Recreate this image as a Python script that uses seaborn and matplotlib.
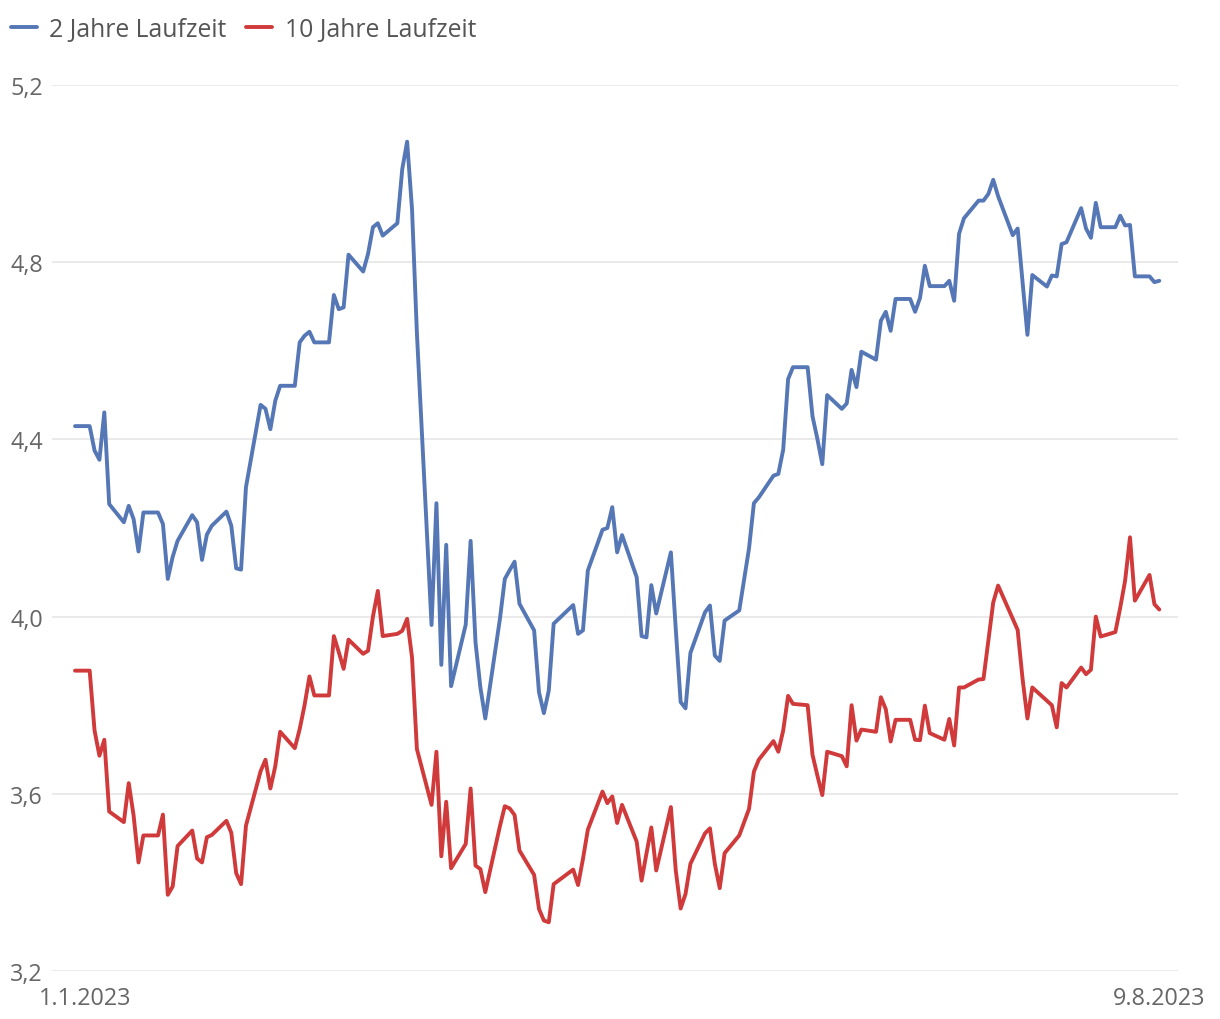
import numpy as np
import pandas as pd
import matplotlib
matplotlib.use("Agg")
import matplotlib.pyplot as plt
import seaborn as sns

# ---------------- data ----------------
series_names = ["2 Jahre Laufzeit", "10 Jahre Laufzeit"]
start_date = "2023-01-01"   # day 0

days_2y = [-2, 1, 2, 3, 4, 5, 8, 9, 10, 11, 12, 15, 16, 17, 18, 19, 22, 23, 24, 25, 26,
           29, 30, 31, 32, 33, 36, 37, 38, 39, 40, 43, 44, 45, 46, 47, 50, 51, 52, 53, 54,
           57, 58, 59, 60, 61, 64, 65, 66, 67, 68, 71, 72, 73, 74, 75, 78, 79, 80, 81, 82,
           85, 86, 87, 88, 89, 92, 93, 94, 95, 96, 100, 101, 102, 103, 106, 107, 108, 109, 110,
           113, 114, 115, 116, 117, 120, 121, 122, 123, 124, 127, 128, 129, 130, 131,
           134, 136, 137, 138, 141, 142, 143, 144, 145, 148, 149, 150, 151, 152,
           155, 156, 157, 158, 159, 162, 163, 164, 165, 166, 169, 170, 171, 172, 173,
           176, 177, 178, 179, 180, 183, 184, 185, 186, 187, 190, 191, 193, 194,
           197, 198, 199, 200, 201, 204, 205, 206, 207, 208, 211, 212, 213, 214, 215,
           218, 219, 220]
yield_2y = [4.43, 4.43, 4.375, 4.354, 4.461, 4.254, 4.213, 4.25, 4.22, 4.147, 4.235,
            4.235, 4.209, 4.085, 4.135, 4.171, 4.229, 4.213, 4.128, 4.185, 4.205,
            4.237, 4.205, 4.109, 4.106, 4.292, 4.478, 4.469, 4.423, 4.487, 4.521,
            4.521, 4.619, 4.634, 4.643, 4.619, 4.619, 4.726, 4.694, 4.698, 4.817,
            4.779, 4.819, 4.879, 4.888, 4.86, 4.888, 5.01, 5.072, 4.92, 4.64,
            3.981, 4.256, 3.891, 4.162, 3.843, 3.982, 4.171, 3.942, 3.84, 3.77,
            3.995, 4.085, 4.105, 4.124, 4.029, 3.969, 3.829, 3.782, 3.833, 3.984,
            4.026, 3.961, 3.969, 4.104, 4.196, 4.2, 4.247, 4.145, 4.184,
            4.089, 3.956, 3.953, 4.071, 4.007, 4.145, 3.972, 3.807, 3.793, 3.918,
            4.01, 4.025, 3.912, 3.9, 3.991, 4.014, 4.154, 4.256, 4.269,
            4.318, 4.322, 4.377, 4.536, 4.563, 4.563, 4.452, 4.401, 4.344, 4.5,
            4.469, 4.481, 4.557, 4.518, 4.598, 4.58, 4.668, 4.688, 4.645, 4.717,
            4.717, 4.688, 4.719, 4.792, 4.746, 4.746, 4.758, 4.713, 4.864, 4.899,
            4.939, 4.939, 4.954, 4.986, 4.949, 4.861, 4.876, 4.636, 4.771,
            4.745, 4.77, 4.768, 4.841, 4.845, 4.922, 4.876, 4.855, 4.934, 4.879,
            4.879, 4.905, 4.883, 4.884, 4.768, 4.768, 4.755, 4.758]

days_10y = [-2, 1, 2, 3, 4, 5, 8, 9, 10, 11, 12, 15, 16, 17, 18, 19, 22, 23, 24, 25, 26,
            29, 30, 31, 32, 33, 36, 37, 38, 39, 40, 43, 44, 45, 46, 47, 50, 51, 52, 53, 54,
            57, 58, 59, 60, 61, 64, 65, 66, 67, 68, 71, 72, 73, 74, 75, 78, 79, 80, 81, 82,
            85, 86, 87, 88, 89, 92, 93, 94, 95, 96, 100, 101, 102, 103, 106, 107, 108, 109, 110,
            113, 114, 115, 116, 117, 120, 121, 122, 123, 124, 127, 128, 129, 130, 131,
            134, 136, 137, 138, 141, 142, 143, 144, 145, 148, 149, 150, 151, 152,
            155, 156, 157, 158, 159, 162, 163, 164, 165, 166, 169, 170, 171, 172, 173,
            176, 177, 178, 179, 180, 183, 184, 185, 186, 187, 190, 191, 192, 193, 194,
            197, 198, 199, 200, 201, 204, 205, 206, 207, 208, 211, 212, 213, 214, 215,
            218, 219, 220]
yield_10y = [3.878, 3.878, 3.743, 3.686, 3.722, 3.56, 3.536, 3.624, 3.551, 3.445, 3.506,
             3.506, 3.553, 3.372, 3.391, 3.482, 3.517, 3.454, 3.445, 3.502, 3.507,
             3.539, 3.512, 3.421, 3.396, 3.528, 3.651, 3.677, 3.612, 3.662, 3.74,
             3.703, 3.746, 3.80, 3.865, 3.822, 3.822, 3.956, 3.92, 3.882, 3.948,
             3.916, 3.923, 4.0, 4.058, 3.956, 3.961, 3.968, 3.995, 3.908, 3.701,
             3.575, 3.695, 3.459, 3.582, 3.432, 3.487, 3.612, 3.438, 3.43, 3.378,
             3.527, 3.572, 3.567, 3.552, 3.472, 3.417, 3.34, 3.314, 3.31, 3.396,
             3.429, 3.394, 3.453, 3.519, 3.605, 3.579, 3.594, 3.534, 3.575,
             3.492, 3.404, 3.465, 3.524, 3.427, 3.57, 3.427, 3.341, 3.374, 3.442,
             3.511, 3.522, 3.442, 3.387, 3.466, 3.506, 3.566, 3.65, 3.677,
             3.719, 3.695, 3.743, 3.821, 3.803, 3.8, 3.688, 3.641, 3.597, 3.695,
             3.685, 3.662, 3.8, 3.72, 3.745, 3.74, 3.818, 3.791, 3.718, 3.767,
             3.767, 3.722, 3.721, 3.799, 3.737, 3.722, 3.769, 3.709, 3.84, 3.84,
             3.858, 3.859, 3.945, 4.032, 4.07, 3.995, 3.97, 3.86, 3.77, 3.84,
             3.81, 3.80, 3.75, 3.85, 3.84, 3.885, 3.87, 3.88, 4.0, 3.955,
             3.965, 4.02, 4.081, 4.179, 4.036, 4.094, 4.028, 4.016]

x_tick_days = [0, 220]
x_tick_labels = ["1.1.2023", "9.8.2023"]
y_ticks = [3.2, 3.6, 4.0, 4.4, 4.8, 5.2]
y_tick_labels = ["3,2", "3,6", "4,0", "4,4", "4,8", "5,2"]

# ---------------- frame ----------------
base = pd.Timestamp(start_date)
df = pd.concat([
    pd.DataFrame({"Datum": base + pd.to_timedelta(days_2y, unit="D"),
                  "Rendite": yield_2y, "Serie": series_names[0]}),
    pd.DataFrame({"Datum": base + pd.to_timedelta(days_10y, unit="D"),
                  "Rendite": yield_10y, "Serie": series_names[1]}),
], ignore_index=True)

# ---------------- style ----------------
sns.set_theme(style="white")
plt.rcParams["font.family"] = ["Open Sans", "DejaVu Sans"]

c_blue = "#5577b5"
c_red = "#d03a3b"
text_col = "#666666"

fig = plt.figure(figsize=(12.2, 10.2), dpi=100)
ax = fig.add_axes([52 / 1220, 48 / 1020, 1126 / 1220, 886 / 1020])

sns.lineplot(data=df, x="Datum", y="Rendite", hue="Serie", hue_order=series_names,
             palette=[c_blue, c_red], estimator=None, sort=True, linewidth=2.8,
             ax=ax, legend=False)
for ln in ax.lines:
    ln.set_solid_joinstyle("round")
    ln.set_solid_capstyle("round")

ax.set_xlim(base + pd.Timedelta(days=-6.71), base + pd.Timedelta(days=223.83))
ax.set_ylim(3.2, 5.2)
ax.set_yticks(y_ticks, y_tick_labels)
ax.set_xticks([base + pd.Timedelta(days=d) for d in x_tick_days], x_tick_labels)
ax.set_xlabel("")
ax.set_ylabel("")
ax.grid(axis="y", color="#e6e6e6", linewidth=1.2)
ax.grid(axis="x", visible=False)
ax.set_axisbelow(True)
for s in ax.spines.values():
    s.set_visible(False)
ax.tick_params(axis="both", length=0, labelsize=16.8, labelcolor=text_col)
ax.tick_params(axis="y", pad=30)
ax.tick_params(axis="x", pad=11)
for t in ax.get_yticklabels():
    t.set_horizontalalignment("left")

handles = list(ax.lines[:2])
leg = fig.legend(handles, series_names, loc="upper left",
                 bbox_to_anchor=(11 / 1220, 1 - 18 / 1020), ncol=2, frameon=False,
                 fontsize=17.8, handlelength=1.05, handletextpad=0.5,
                 columnspacing=0.8, borderpad=0, borderaxespad=0)
for t in leg.get_texts():
    t.set_color("#555555")

fig.savefig("out.png", dpi=100)
